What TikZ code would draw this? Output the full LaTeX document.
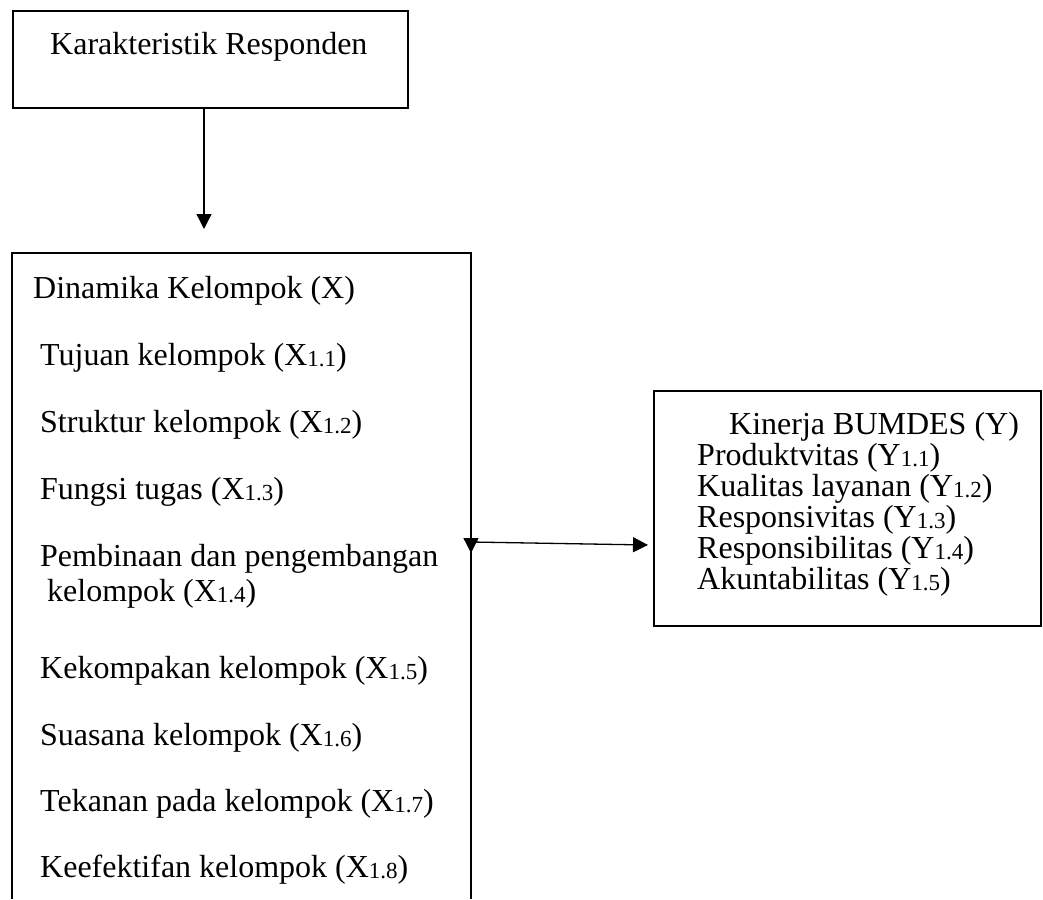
\documentclass[tikz,border=0pt]{standalone}
\usepackage{fontspec}
\setmainfont{Liberation Serif}
\usetikzlibrary{arrows.meta}
\newcommand\sbs[1]{\raisebox{-1.5pt}{\fontsize{23}{23}\selectfont #1}}
\begin{document}
\begin{tikzpicture}[x=1pt,y=-1pt,
  boxline/.style={line width=1.7pt},
  conn/.style={line width=1.3pt,-{Triangle[width=15pt,length=15pt]}},
  txt/.style={anchor=base west,inner sep=0pt,font=\fontsize{32}{30}\selectfont}]
\useasboundingbox (0,0) rectangle (1043,899);
% top box
\node[boxline,draw,minimum width=395pt,minimum height=97pt,anchor=north west,inner sep=0pt] (top) at (12,10) {};
\node[txt] (tk) at (50,55) {Karakteristik Responden};
% big box (open at bottom)
\coordinate (bl) at (12,899);
\coordinate (btl) at (12,253);
\coordinate (btr) at (471,253);
\coordinate (br) at (471,899);
\draw[boxline] (bl) -- (btl) -- (btr) -- (br);
\node[txt] (x0) at (33,298) {Dinamika Kelompok (X)};
\node[txt] (x1) at (40,365) {Tujuan kelompok (X\sbs{1.1})};
\node[txt] (x2) at (40,432) {Struktur kelompok (X\sbs{1.2})};
\node[txt] (x3) at (40,499) {Fungsi tugas (X\sbs{1.3})};
\node[txt] (x4) at (40,566) {Pembinaan dan pengembangan};
\node[txt] (x4b) at (47,601) {kelompok (X\sbs{1.4})};
\node[txt] (x5) at (40,678) {Kekompakan kelompok (X\sbs{1.5})};
\node[txt] (x6) at (40,745) {Suasana kelompok (X\sbs{1.6})};
\node[txt] (x7) at (40,811) {Tekanan pada kelompok (X\sbs{1.7})};
\node[txt] (x8) at (40,877) {Keefektifan kelompok (X\sbs{1.8})};
% right box
\node[boxline,draw,minimum width=387pt,minimum height=235pt,anchor=north west,inner sep=0pt] (rb) at (653,390) {};
\node[txt] (y0) at (729,434) {Kinerja BUMDES (Y)};
\node[txt] (y1) at (697,465) {Produktvitas (Y\sbs{1.1})};
\node[txt] (y2) at (697,496) {Kualitas layanan (Y\sbs{1.2})};
\node[txt] (y3) at (697,527) {Responsivitas (Y\sbs{1.3})};
\node[txt] (y4) at (697,558) {Responsibilitas (Y\sbs{1.4})};
\node[txt] (y5) at (697,589) {Akuntabilitas (Y\sbs{1.5})};
% connectors
\coordinate (a1end) at (204,229);
\draw[conn] (top.south -| a1end) -- (a1end);
\coordinate (a2start) at (471,542);
\coordinate (a2end) at (648,545);
\draw[conn] (a2start) -- (a2end);
\coordinate (a3start) at (471,536);
\coordinate (a3end) at (471,553);
\draw[conn] (a3start) -- (a3end);
\end{tikzpicture}
\end{document}
